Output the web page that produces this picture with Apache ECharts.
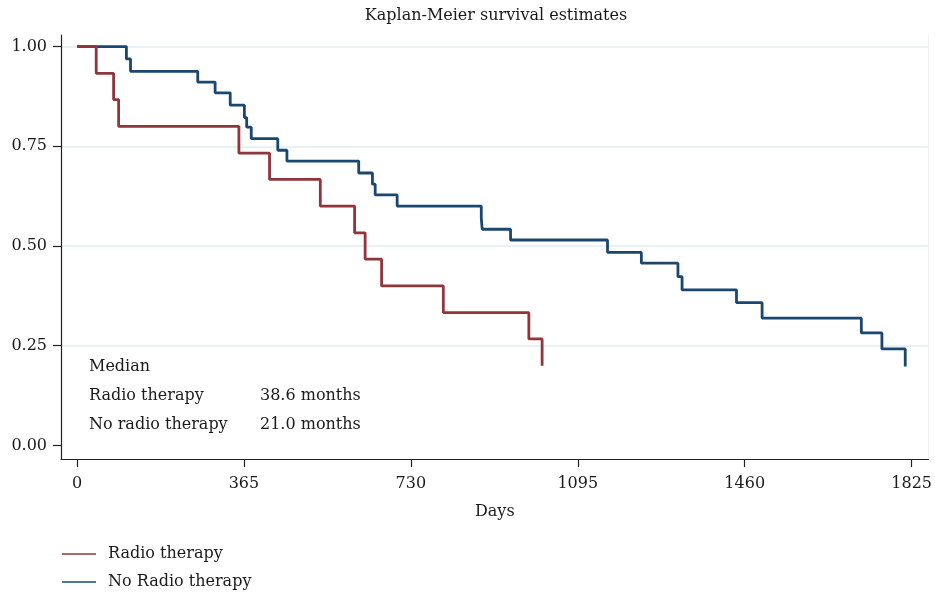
<!DOCTYPE html>
<html>
<head>
<meta charset="utf-8">
<script src="https://cdn.jsdelivr.net/npm/echarts@6/dist/echarts.min.js"></script>
<style>
  html, body { margin: 0; padding: 0; background: #ffffff; }
  #chart { width: 935px; height: 596px; }
</style>
</head>
<body>
<div id="chart"></div>
<script>
// ---- Data ----
const seriesNames = ['Radio therapy', 'No Radio therapy'];
const redDays  = [0, 42, 80, 91, 354, 421, 532, 607, 630, 666, 801, 988, 1017];
const redSurv  = [1, 0.933, 0.867, 0.800, 0.733, 0.667, 0.600, 0.533, 0.467, 0.400, 0.333, 0.267, 0.200];
const blueDays = [0, 108, 117, 264, 302, 335, 366, 371, 381, 439, 459, 616, 646, 652, 700, 884, 886, 948, 1160, 1234, 1314, 1323, 1442, 1498, 1715, 1760, 1811];
const blueSurv = [1, 0.969, 0.938, 0.911, 0.884, 0.853, 0.822, 0.798, 0.769, 0.740, 0.713, 0.683, 0.655, 0.628, 0.600, 0.570, 0.542, 0.515, 0.484, 0.457, 0.423, 0.390, 0.358, 0.319, 0.282, 0.242, 0.198];
const xTicks = [0, 365, 730, 1095, 1460, 1825];
const yTicks = [0, 0.25, 0.5, 0.75, 1];
const gridVals = [0.25, 0.5, 0.75, 1];
const medianRows = [['Median', ''], ['Radio therapy', '38.6 months'], ['No radio therapy', '21.0 months']];
const titleText = 'Kaplan-Meier survival estimates';
const xName = 'Days';

const FONT = 'DejaVu Serif';
const TXT = '#1a1a1a';
const RED = '#90353B';
const BLUE = '#1A476F';

const chart = echarts.init(document.getElementById('chart'), null, { renderer: 'canvas' });

const pairs = (xs, ys) => xs.map((x, i) => [x, ys[i]]);

const graphics = [{
  type: 'text', x: 496, y: 16,
  style: { text: titleText, font: '16px "' + FONT + '"', fill: TXT, textAlign: 'center', textVerticalAlign: 'middle' }
}];
medianRows.forEach((r, i) => {
  graphics.push({ type: 'text', x: 89, y: 367 + i * 29,
    style: { text: r[0], font: '16px "' + FONT + '"', fill: TXT, textAlign: 'left', textVerticalAlign: 'middle' } });
  if (r[1]) graphics.push({ type: 'text', x: 260, y: 367 + i * 29,
    style: { text: r[1], font: '16px "' + FONT + '"', fill: TXT, textAlign: 'left', textVerticalAlign: 'middle' } });
});

const option = {
  animation: false,
  backgroundColor: '#ffffff',
  grid: { left: 61, right: 5, top: 35, bottom: 137, containLabel: false },
  xAxis: {
    type: 'value', min: -35, max: 1862,
    name: xName, nameLocation: 'middle', nameGap: 45,
    nameTextStyle: { fontFamily: FONT, fontSize: 16, color: TXT },
    axisLine: { show: true, onZero: false, lineStyle: { color: '#222', width: 1.2 } },
    axisTick: { show: true, length: 8, customValues: xTicks, lineStyle: { color: '#222', width: 1.2 } },
    axisLabel: { customValues: xTicks, margin: 17, fontFamily: FONT, fontSize: 16, color: TXT,
      formatter: v => String(Math.round(v)) },
    splitLine: { show: false }
  },
  yAxis: [{
    type: 'value', min: -0.034, max: 1.029,
    axisLine: { show: true, onZero: false, lineStyle: { color: '#222', width: 1.2 } },
    axisTick: { show: true, length: 8, customValues: yTicks, lineStyle: { color: '#222', width: 1.2 } },
    axisLabel: { customValues: yTicks, margin: 14, fontFamily: FONT, fontSize: 16, color: TXT,
      formatter: v => Number(v).toFixed(2) },
    splitLine: { show: false }
  }, {
    type: 'value', min: -0.034, max: 1.029, position: 'right',
    axisLine: { show: true, onZero: false, lineStyle: { color: '#eef2f4', width: 1 } },
    axisTick: { show: false, customValues: gridVals },
    axisLabel: { show: false },
    splitLine: { show: true, lineStyle: { color: '#e9f1f3', width: 2 } }
  }],
  legend: {
    data: seriesNames, orient: 'vertical', left: 62, top: 545, padding: 0,
    icon: 'rect', itemWidth: 34, itemHeight: 1.6, itemGap: 10,
    textStyle: { fontFamily: FONT, fontSize: 16, color: TXT, lineHeight: 18, padding: [0, 0, 0, 7] }
  },
  graphic: graphics,
  series: [
    {
      name: seriesNames[0], type: 'line', step: 'end', z: 4,
      data: pairs(redDays, redSurv), showSymbol: false, symbol: 'none',
      lineStyle: { color: RED, width: 2.8 }, itemStyle: { color: RED }
    },
    {
      name: seriesNames[1], type: 'line', step: 'end', z: 3,
      data: pairs(blueDays, blueSurv), showSymbol: false, symbol: 'none',
      lineStyle: { color: BLUE, width: 2.8 }, itemStyle: { color: BLUE }
    }
  ]
};
chart.setOption(option);
</script>
</body>
</html>
